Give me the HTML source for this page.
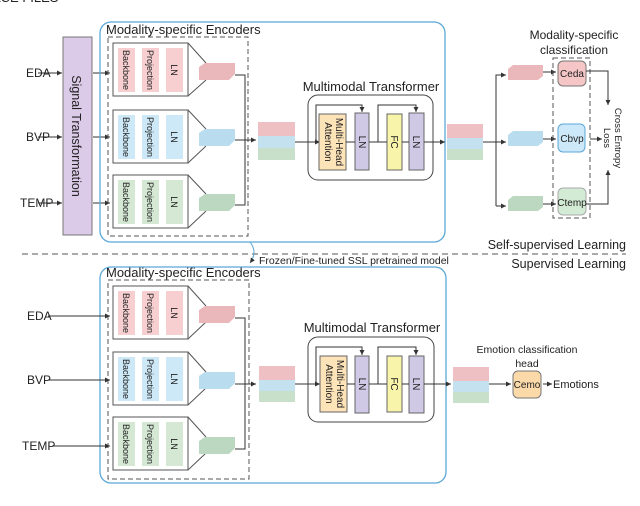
<!DOCTYPE html>
<html><head><meta charset="utf-8"><style>
body{margin:0;background:#fff}
svg{display:block}
text{font-family:"Liberation Sans","DejaVu Sans",sans-serif;fill:#222}
</style></head><body>
<svg width="640" height="506" viewBox="0 0 640 506" xmlns="http://www.w3.org/2000/svg">
<defs>
<marker id="a" markerWidth="6" markerHeight="6" refX="5" refY="3" orient="auto" markerUnits="userSpaceOnUse"><path d="M0,0.5 L5,3 L0,5.5z" fill="#333"/></marker>
</defs>
<text x="-8" y="2" font-size="13" fill="#555">ACE FILES</text>

<!-- ============ TOP ============ -->
<g stroke="#333" stroke-width="1" fill="none">
<line x1="38" y1="73" x2="62" y2="73" marker-end="url(#a)"/>
<line x1="38" y1="137" x2="62" y2="137" marker-end="url(#a)"/>
<line x1="38" y1="203" x2="62" y2="203" marker-end="url(#a)"/>
<line x1="93" y1="73" x2="110" y2="73" marker-end="url(#a)"/>
<line x1="93" y1="137" x2="110" y2="137" marker-end="url(#a)"/>
<line x1="93" y1="203" x2="110" y2="203" marker-end="url(#a)"/>
</g>
<text x="26" y="77" font-size="12">EDA</text>
<text x="26" y="141" font-size="12">BVP</text>
<text x="20" y="207" font-size="12">TEMP</text>
<rect x="63" y="37" width="29" height="198" fill="#dccbe8" stroke="#777"/>
<text transform="translate(72,136) rotate(90)" font-size="12.5" text-anchor="middle">Signal Transformation</text>

<rect x="100" y="22" width="345" height="220" rx="11" fill="none" stroke="#5aa7d8" stroke-width="1.3"/>
<text x="106" y="34" font-size="13">Modality-specific Encoders</text>
<rect x="108" y="37" width="140" height="199" fill="none" stroke="#555" stroke-dasharray="5,3"/>

<rect x="113" y="43" width="75" height="53" fill="#fff" stroke="#555"/>
<path d="M188,43 L206,63 M188,96 L206,80" stroke="#555" fill="none"/>
<rect x="113" y="110" width="75" height="53" fill="#fff" stroke="#555"/>
<path d="M188,110 L206,129 M188,163 L206,146" stroke="#555" fill="none"/>
<rect x="113" y="175" width="75" height="53" fill="#fff" stroke="#555"/>
<path d="M188,175 L206,194 M188,228 L206,211" stroke="#555" fill="none"/>

<g font-size="9">
<rect x="118" y="48" width="17" height="44" fill="#f7cfd1"/><rect x="142" y="48" width="17" height="44" fill="#f7cfd1"/><rect x="166" y="48" width="17" height="44" fill="#f7cfd1"/>
<text transform="translate(123,70) rotate(90)" text-anchor="middle">Backbone</text>
<text transform="translate(147,70) rotate(90)" text-anchor="middle">Projection</text>
<text transform="translate(171,70) rotate(90)" text-anchor="middle">LN</text>
<rect x="118" y="115" width="17" height="44" fill="#cde8f7"/><rect x="142" y="115" width="17" height="44" fill="#cde8f7"/><rect x="166" y="115" width="17" height="44" fill="#cde8f7"/>
<text transform="translate(123,137) rotate(90)" text-anchor="middle">Backbone</text>
<text transform="translate(147,137) rotate(90)" text-anchor="middle">Projection</text>
<text transform="translate(171,137) rotate(90)" text-anchor="middle">LN</text>
<rect x="118" y="180" width="17" height="44" fill="#d4e8d4"/><rect x="142" y="180" width="17" height="44" fill="#d4e8d4"/><rect x="166" y="180" width="17" height="44" fill="#d4e8d4"/>
<text transform="translate(123,202) rotate(90)" text-anchor="middle">Backbone</text>
<text transform="translate(147,202) rotate(90)" text-anchor="middle">Projection</text>
<text transform="translate(171,202) rotate(90)" text-anchor="middle">LN</text>
</g>

<path d="M199,67 L205,63 L235,63 L235,74 L229,80 L199,80z" fill="#eab8bb"/>
<path d="M199,133 L205,129 L235,129 L235,140 L229,146 L199,146z" fill="#b9dcee"/>
<path d="M199,198 L205,194 L235,194 L235,205 L229,211 L199,211z" fill="#bcd8c0"/>
<g stroke="#333" fill="none">
<path d="M235,75 L245,75 L245,205 L235,205"/>
<line x1="235" y1="140" x2="256" y2="140" marker-end="url(#a)"/>
</g>
<rect x="258" y="122" width="37" height="14" fill="#efc0c3"/>
<rect x="258" y="136" width="37" height="12" fill="#c3e1ef"/>
<rect x="258" y="148" width="37" height="12" fill="#c8e0c9"/>
<line x1="295" y1="142" x2="320" y2="142" stroke="#333" marker-end="url(#a)"/>

<text x="371" y="91" font-size="13" text-anchor="middle">Multimodal Transformer</text>
<rect x="308" y="95" width="125" height="85" rx="10" fill="none" stroke="#444"/>
<rect x="319" y="114" width="27" height="56" fill="#fde3b8" stroke="#666"/>
<rect x="355" y="113" width="14" height="57" fill="#cfc9e6" stroke="#666"/>
<rect x="387" y="114" width="15" height="56" fill="#f8f5aa" stroke="#666"/>
<rect x="409" y="113" width="15" height="57" fill="#cfc9e6" stroke="#666"/>
<g font-size="10">
<text transform="translate(336,142) rotate(90)" text-anchor="middle">Multi-Head</text>
<text transform="translate(325,142) rotate(90)" text-anchor="middle">Attention</text>
<text transform="translate(359,142) rotate(90)" text-anchor="middle">LN</text>
<text transform="translate(391,142) rotate(90)" text-anchor="middle">FC</text>
<text transform="translate(413,142) rotate(90)" text-anchor="middle">LN</text>
</g>
<g stroke="#333" fill="none">
<line x1="346" y1="142" x2="355" y2="142"/>
<line x1="369" y1="142" x2="387" y2="142"/>
<line x1="402" y1="142" x2="409" y2="142"/>
<path d="M316,142 L316,105 L362,105 L362,112" marker-end="url(#a)"/>
<path d="M378,142 L378,105 L416,105 L416,112" marker-end="url(#a)"/>
<line x1="424" y1="142" x2="445" y2="142" marker-end="url(#a)"/>
</g>
<rect x="447" y="124" width="36" height="14" fill="#efc0c3"/>
<rect x="447" y="138" width="36" height="11" fill="#c3e1ef"/>
<rect x="447" y="149" width="36" height="11" fill="#c8e0c9"/>
<g stroke="#333" fill="none">
<line x1="483" y1="142" x2="506" y2="142" marker-end="url(#a)"/>
<path d="M496,206 L496,75 L506,75" marker-end="url(#a)"/>
<line x1="496" y1="206" x2="506" y2="206" marker-end="url(#a)"/>
<line x1="543" y1="72" x2="556" y2="72" marker-end="url(#a)"/>
<line x1="543" y1="139" x2="556" y2="139" marker-end="url(#a)"/>
<line x1="543" y1="204" x2="556" y2="204" marker-end="url(#a)"/>
</g>
<path d="M508,69 L513,65 L543,65 L543,76 L538,80 L508,80z" fill="#eab8bb"/>
<path d="M508,135 L513,131 L543,131 L543,142 L538,146 L508,146z" fill="#b9dcee"/>
<path d="M508,200 L513,196 L543,196 L543,207 L538,211 L508,211z" fill="#bcd8c0"/>
<text x="574" y="39" font-size="12" text-anchor="middle">Modality-specific</text>
<text x="574" y="54" font-size="12" text-anchor="middle">classification</text>
<rect x="553" y="58" width="37" height="160" fill="none" stroke="#555" stroke-dasharray="5,3"/>
<rect x="558" y="61" width="28" height="25" rx="5" fill="#f6c6c6" stroke="#777"/>
<rect x="558" y="124" width="27" height="28" rx="5" fill="#cde8f8" stroke="#5aa7d8"/>
<rect x="558" y="188" width="28" height="27" rx="5" fill="#d3ebd4" stroke="#aaa"/>
<g font-size="10" text-anchor="middle">
<text x="572" y="77">Ceda</text><text x="572" y="142">Cbvp</text><text x="572" y="206">Ctemp</text>
</g>
<g stroke="#333" fill="none">
<path d="M586,71 L608,71 L608,105" marker-end="url(#a)"/>
<path d="M586,204 L608,204 L608,170" marker-end="url(#a)"/>
<line x1="590" y1="139" x2="602" y2="139" marker-end="url(#a)"/>
</g>
<g font-size="9.5">
<text transform="translate(615,138) rotate(90)" text-anchor="middle">Cross Entropy</text>
<text transform="translate(604,138) rotate(90)" text-anchor="middle">Loss</text>
</g>

<text x="626" y="249" font-size="12.5" text-anchor="end">Self-supervised Learning</text>
<line x1="22" y1="254" x2="626" y2="254" stroke="#555" stroke-dasharray="6,4"/>
<text x="626" y="268" font-size="12.5" text-anchor="end">Supervised Learning</text>
<path d="M250,242 Q258,252 250,263" stroke="#5aa7d8" fill="none" marker-end="url(#a)"/>
<text x="259" y="264" font-size="10.5" fill="#2b8fd0">Frozen/Fine-tuned SSL pretrained model</text>

<!-- ============ BOTTOM ============ -->
<rect x="100" y="267" width="346" height="216" rx="11" fill="none" stroke="#5aa7d8" stroke-width="1.3"/>
<text x="106" y="277" font-size="13">Modality-specific Encoders</text>
<rect x="108" y="280" width="141" height="199" fill="none" stroke="#555" stroke-dasharray="5,3"/>
<g stroke="#333" fill="none">
<line x1="48" y1="316" x2="110" y2="316" marker-end="url(#a)"/>
<line x1="48" y1="380" x2="110" y2="380" marker-end="url(#a)"/>
<line x1="52" y1="446" x2="110" y2="446" marker-end="url(#a)"/>
</g>
<text x="27" y="320" font-size="12">EDA</text>
<text x="27" y="384" font-size="12">BVP</text>
<text x="22" y="450" font-size="12">TEMP</text>

<rect x="113" y="286" width="75" height="53" fill="#fff" stroke="#555"/>
<path d="M188,286 L206,306 M188,339 L206,322" stroke="#555" fill="none"/>
<rect x="113" y="352" width="75" height="53" fill="#fff" stroke="#555"/>
<path d="M188,352 L206,372 M188,405 L206,388" stroke="#555" fill="none"/>
<rect x="113" y="417" width="75" height="53" fill="#fff" stroke="#555"/>
<path d="M188,417 L206,437 M188,470 L206,453" stroke="#555" fill="none"/>
<g font-size="9">
<rect x="118" y="291" width="17" height="44" fill="#f7cfd1"/><rect x="142" y="291" width="17" height="44" fill="#f7cfd1"/><rect x="166" y="291" width="17" height="44" fill="#f7cfd1"/>
<text transform="translate(123,313) rotate(90)" text-anchor="middle">Backbone</text>
<text transform="translate(147,313) rotate(90)" text-anchor="middle">Projection</text>
<text transform="translate(171,313) rotate(90)" text-anchor="middle">LN</text>
<rect x="118" y="357" width="17" height="44" fill="#cde8f7"/><rect x="142" y="357" width="17" height="44" fill="#cde8f7"/><rect x="166" y="357" width="17" height="44" fill="#cde8f7"/>
<text transform="translate(123,379) rotate(90)" text-anchor="middle">Backbone</text>
<text transform="translate(147,379) rotate(90)" text-anchor="middle">Projection</text>
<text transform="translate(171,379) rotate(90)" text-anchor="middle">LN</text>
<rect x="118" y="422" width="17" height="44" fill="#d4e8d4"/><rect x="142" y="422" width="17" height="44" fill="#d4e8d4"/><rect x="166" y="422" width="17" height="44" fill="#d4e8d4"/>
<text transform="translate(123,444) rotate(90)" text-anchor="middle">Backbone</text>
<text transform="translate(147,444) rotate(90)" text-anchor="middle">Projection</text>
<text transform="translate(171,444) rotate(90)" text-anchor="middle">LN</text>
</g>
<path d="M199,310 L205,306 L235,306 L235,317 L229,323 L199,323z" fill="#eab8bb"/>
<path d="M199,376 L205,372 L235,372 L235,383 L229,389 L199,389z" fill="#b9dcee"/>
<path d="M199,441 L205,437 L235,437 L235,448 L229,454 L199,454z" fill="#bcd8c0"/>
<g stroke="#333" fill="none">
<path d="M235,318 L245,318 L245,449 L235,449"/>
<line x1="235" y1="384" x2="256" y2="384" marker-end="url(#a)"/>
</g>
<rect x="259" y="366" width="36" height="14" fill="#efc0c3"/>
<rect x="259" y="380" width="36" height="11" fill="#c3e1ef"/>
<rect x="259" y="391" width="36" height="11" fill="#c8e0c9"/>
<line x1="295" y1="384" x2="320" y2="384" stroke="#333" marker-end="url(#a)"/>

<text x="372" y="332" font-size="13" text-anchor="middle">Multimodal Transformer</text>
<rect x="308" y="337" width="126" height="85" rx="10" fill="none" stroke="#444"/>
<rect x="320" y="356" width="27" height="56" fill="#fde3b8" stroke="#666"/>
<rect x="355" y="356" width="14" height="57" fill="#cfc9e6" stroke="#666"/>
<rect x="387" y="356" width="15" height="56" fill="#f8f5aa" stroke="#666"/>
<rect x="409" y="356" width="15" height="57" fill="#cfc9e6" stroke="#666"/>
<g font-size="10">
<text transform="translate(337,384) rotate(90)" text-anchor="middle">Multi-Head</text>
<text transform="translate(326,384) rotate(90)" text-anchor="middle">Attention</text>
<text transform="translate(359,384) rotate(90)" text-anchor="middle">LN</text>
<text transform="translate(391,384) rotate(90)" text-anchor="middle">FC</text>
<text transform="translate(413,384) rotate(90)" text-anchor="middle">LN</text>
</g>
<g stroke="#333" fill="none">
<line x1="347" y1="384" x2="355" y2="384"/>
<line x1="369" y1="384" x2="387" y2="384"/>
<line x1="402" y1="384" x2="409" y2="384"/>
<path d="M316,384 L316,347 L362,347 L362,355" marker-end="url(#a)"/>
<path d="M378,384 L378,347 L416,347 L416,355" marker-end="url(#a)"/>
<line x1="424" y1="384" x2="451" y2="384" marker-end="url(#a)"/>
</g>
<rect x="453" y="367" width="36" height="14" fill="#efc0c3"/>
<rect x="453" y="381" width="36" height="11" fill="#c3e1ef"/>
<rect x="453" y="392" width="36" height="11" fill="#c8e0c9"/>
<line x1="489" y1="384" x2="511" y2="384" stroke="#333" marker-end="url(#a)"/>
<text x="527" y="353" font-size="10.5" text-anchor="middle">Emotion classification</text>
<text x="527" y="367" font-size="10.5" text-anchor="middle">head</text>
<rect x="513" y="371" width="28" height="27" rx="5" fill="#fbd9a8" stroke="#777"/>
<text x="527" y="388" font-size="10" text-anchor="middle">Cemo</text>
<line x1="543" y1="384" x2="552" y2="384" stroke="#333" marker-end="url(#a)"/>
<text x="553" y="388" font-size="11">Emotions</text>
</svg>
</body></html>
